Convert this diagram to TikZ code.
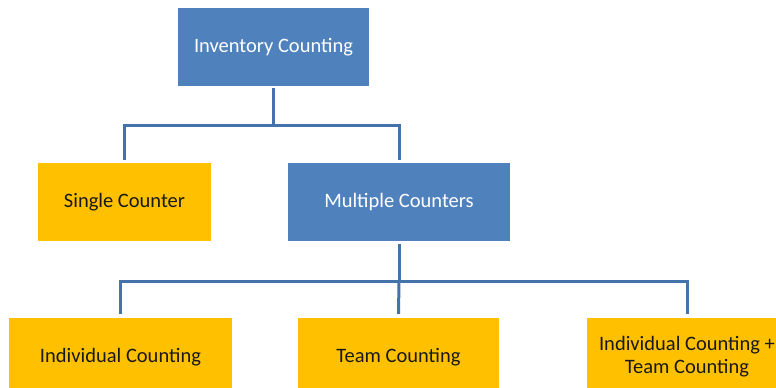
\documentclass[tikz,border=0pt]{standalone}
\usepackage{fontspec}
\setmainfont{Carlito}
\definecolor{boxblue}{RGB}{79,129,189}
\definecolor{boxgold}{RGB}{255,192,0}
\definecolor{linkblue}{RGB}{68,114,170}
\tikzset{
  every node/.style={font=\fontsize{20.5}{23}\selectfont, inner sep=0pt, align=center},
  bluebox/.style={rectangle, fill=boxblue, text=white, minimum height=78pt},
  goldbox/.style={rectangle, fill=boxgold, text=black!90, minimum height=78pt},
  link/.style={draw=linkblue, line width=3pt}
}
\begin{document}
\begin{tikzpicture}[x=1pt, y=-1pt]
  \useasboundingbox (0,0) rectangle (776,388);
  \clip (0,0) rectangle (776,388);

  % tree of boxes
  \node[bluebox, minimum width=191pt] (top) at (273.5,47) {Inventory Counting};
  \node[goldbox, minimum width=173pt] (single) at (124.5,202) {Single Counter};
  \node[bluebox, minimum width=222pt] (multi) at (399,202) {Multiple Counters};
  \node[goldbox, minimum width=223pt] (indiv) at (120.5,357) {Individual Counting};
  \node[goldbox, minimum width=201pt] (team) at (398.5,357) {Team Counting};
  \node[goldbox, minimum width=200pt] (both) at (687,357) {Individual Counting +\\Team Counting};

  % bus junctions
  \coordinate (j1) at (273.5,125);
  \coordinate (j2) at (399,281);

  % connectors
  \draw[link] ([yshift=-2pt]top.south) -- (j1);
  \draw[link] ([yshift=3pt]single.north) |- (j1) -| ([yshift=3pt]multi.north);
  \draw[link] ([yshift=-3pt]multi.south) -- (j2);
  \draw[link] ([yshift=4pt]indiv.north) |- (j2) -| ([yshift=4pt]both.north);
  \draw[link] (j2) -- ([yshift=4pt]team.north);
\end{tikzpicture}
\end{document}
